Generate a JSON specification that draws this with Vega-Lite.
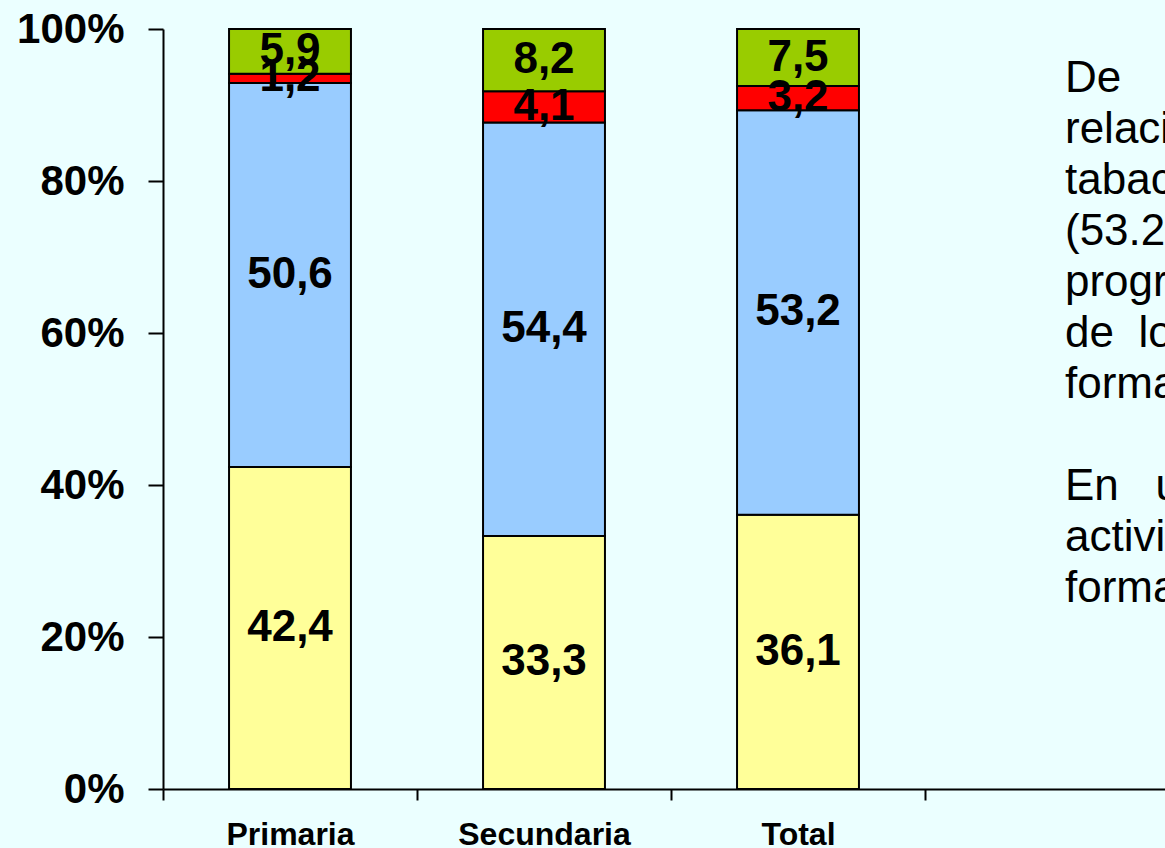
{
  "$schema": "https://vega.github.io/schema/vega-lite/v6.json",
  "autosize": {"type": "none"},
  "width": 1002,
  "height": 760,
  "padding": {"left": 163, "top": 29, "right": 0, "bottom": 59},
  "background": "#EBFFFF",
  "config": {
    "view": {"stroke": null},
    "font": "Liberation Sans",
    "locale": {"number": {"decimal": ",", "thousands": ".", "grouping": [3], "currency": ["", " €"]}}
  },
  "datasets": {
    "bars": [
      {"nivel": "Primaria", "serie": "A", "orden": 1, "valor": 42.4},
      {"nivel": "Primaria", "serie": "B", "orden": 2, "valor": 50.6},
      {"nivel": "Primaria", "serie": "C", "orden": 3, "valor": 1.2},
      {"nivel": "Primaria", "serie": "D", "orden": 4, "valor": 5.9},
      {"nivel": "Secundaria", "serie": "A", "orden": 1, "valor": 33.3},
      {"nivel": "Secundaria", "serie": "B", "orden": 2, "valor": 54.4},
      {"nivel": "Secundaria", "serie": "C", "orden": 3, "valor": 4.1},
      {"nivel": "Secundaria", "serie": "D", "orden": 4, "valor": 8.2},
      {"nivel": "Total", "serie": "A", "orden": 1, "valor": 36.1},
      {"nivel": "Total", "serie": "B", "orden": 2, "valor": 53.2},
      {"nivel": "Total", "serie": "C", "orden": 3, "valor": 3.2},
      {"nivel": "Total", "serie": "D", "orden": 4, "valor": 7.5}
    ],
    "nota": [
      {"col": "_", "linea": 0, "texto": "De"},
      {"col": "_", "linea": 1, "texto": "relación"},
      {"col": "_", "linea": 2, "texto": "tabaco"},
      {"col": "_", "linea": 3, "texto": "(53.2%)"},
      {"col": "_", "linea": 4, "texto": "programa"},
      {"col": "_", "linea": 5, "texto": "de\u00a0\u00a0los"},
      {"col": "_", "linea": 6, "texto": "formación"},
      {"col": "_", "linea": 8, "texto": "En\u00a0\u00a0\u00a0un"},
      {"col": "_", "linea": 9, "texto": "actividades"},
      {"col": "_", "linea": 10, "texto": "formación"}
    ]
  },
  "layer": [
    {
      "data": {"name": "bars"},
      "transform": [
        {"stack": "valor", "groupby": ["nivel"], "sort": [{"field": "orden", "order": "ascending"}], "offset": "normalize", "as": ["v0", "v1"]},
        {"calculate": "(datum.v0 + datum.v1) / 2", "as": "vm"}
      ],
      "layer": [
        {
          "mark": {"type": "bar", "width": {"band": 0.48}, "stroke": "black", "strokeWidth": 2},
          "encoding": {
            "x": {
              "field": "nivel", "type": "nominal",
              "scale": {"domain": ["Primaria", "Secundaria", "Total", "_"], "range": [0, 1016], "paddingInner": 0, "paddingOuter": 0},
              "axis": {
                "title": null, "labelAngle": 0, "tickBand": "extent", "grid": false,
                "domainColor": "black", "domainWidth": 2, "tickColor": "black", "tickWidth": 2, "tickSize": 11,
                "labelFontSize": 32, "labelFontWeight": "bold", "labelColor": "black",
                "labelBaseline": "alphabetic", "labelPadding": 44,
                "labelExpr": "datum.value == '_' ? '' : datum.value"
              }
            },
            "y": {
              "field": "v0", "type": "quantitative",
              "scale": {"domain": [0, 1]},
              "axis": {
                "title": null, "values": [0, 0.2, 0.4, 0.6, 0.8, 1], "format": ".0%", "grid": false,
                "domainColor": "black", "domainWidth": 2, "tickColor": "black", "tickWidth": 2, "tickSize": 15,
                "labelFontSize": 42, "labelFontWeight": "bold", "labelColor": "black", "labelPadding": 24
              }
            },
            "y2": {"field": "v1"},
            "color": {
              "field": "serie", "type": "nominal",
              "scale": {"domain": ["A", "B", "C", "D"], "range": ["#FFFF99", "#99CCFF", "#FF0000", "#99CC00"]},
              "legend": null
            }
          }
        },
        {
          "mark": {"type": "text", "fontSize": 44, "fontWeight": "bold", "color": "black", "baseline": "middle"},
          "encoding": {
            "x": {"field": "nivel", "type": "nominal"},
            "y": {"field": "vm", "type": "quantitative"},
            "text": {"field": "valor", "type": "quantitative", "format": ".1f"}
          }
        }
      ]
    },
    {
      "data": {"name": "nota"},
      "mark": {"type": "text", "align": "left", "baseline": "alphabetic", "fontSize": 44, "dx": 13, "color": "black"},
      "encoding": {
        "x": {"field": "col", "type": "nominal"},
        "y": {"field": "linea", "type": "quantitative", "scale": {"domain": [0, 10], "range": [63, 573]}, "axis": null},
        "text": {"field": "texto"}
      }
    }
  ],
  "resolve": {"scale": {"y": "independent"}}
}
